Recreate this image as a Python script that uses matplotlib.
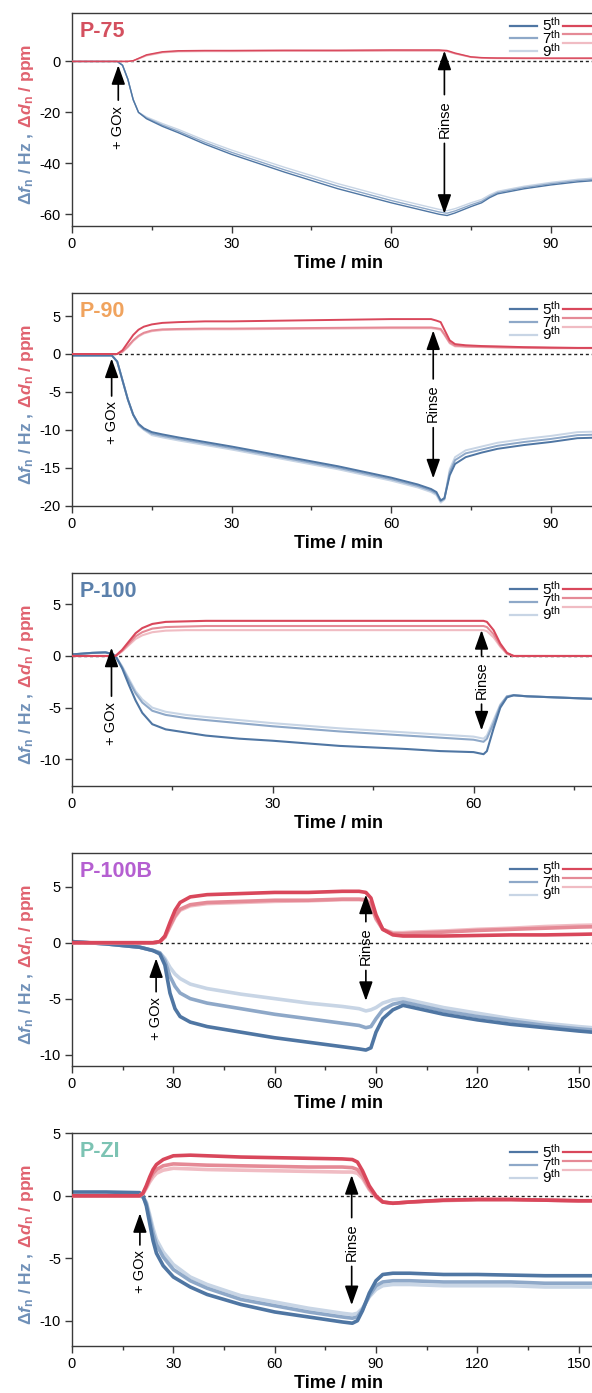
import matplotlib
matplotlib.use('Agg')
import matplotlib.pyplot as plt
from matplotlib.lines import Line2D
from matplotlib.transforms import IdentityTransform

plt.rcParams['font.family'] = ['Liberation Sans', 'DejaVu Sans']
plt.rcParams['mathtext.fontset'] = 'custom'
plt.rcParams['mathtext.rm'] = 'Liberation Sans'
plt.rcParams['mathtext.it'] = 'Liberation Sans:italic'
plt.rcParams['mathtext.bf'] = 'Liberation Sans:bold'
plt.rcParams['mathtext.bfit'] = 'Liberation Sans:italic:bold'
plt.rcParams['axes.unicode_minus'] = False

# ---------------- data ----------------
# P-75
p75_t = [0, 8.5, 9.5, 10.5, 11.5, 12.5, 14, 17, 20, 25, 30, 40, 50, 60, 66, 69, 70.5, 72, 75, 77, 78.5, 80, 85, 90, 95, 100]
p75_f5 = [0, 0, -1.5, -7, -15, -20, -22.5, -25.5, -28, -32.5, -36.5, -43.5, -50, -55.5, -58.5, -60, -60.5, -59.5, -57, -55.5, -53.5, -52, -50, -48.5, -47.3, -46.5]
p75_f7 = [0, 0, -1.5, -7, -15, -20, -22.2, -25, -27.4, -31.8, -35.7, -42.6, -49, -54.6, -57.6, -59.1, -59.6, -58.7, -56.3, -54.9, -53, -51.5, -49.5, -48, -46.8, -46]
p75_f9 = [0, 0, -1.5, -7, -15, -20, -21.8, -24.4, -26.7, -31, -34.8, -41.6, -48, -53.6, -56.6, -58.1, -58.6, -57.8, -55.5, -54.2, -52.4, -51, -49, -47.5, -46.3, -45.5]
p75_d5 = [0, 0, 0, 0, 0.3, 1.2, 2.6, 3.8, 4.2, 4.3, 4.3, 4.4, 4.4, 4.5, 4.5, 4.5, 4.3, 3.3, 1.8, 1.5, 1.4, 1.35, 1.3, 1.3, 1.3, 1.3]
p75_d7 = [0, 0, 0, 0, 0.25, 1.1, 2.4, 3.6, 4.0, 4.1, 4.1, 4.2, 4.2, 4.3, 4.3, 4.3, 4.1, 3.1, 1.7, 1.4, 1.3, 1.25, 1.2, 1.2, 1.2, 1.2]
p75_d9 = [0, 0, 0, 0, 0.2, 1.0, 2.2, 3.4, 3.8, 3.9, 3.9, 4.0, 4.0, 4.1, 4.1, 4.1, 3.9, 3.0, 1.6, 1.3, 1.2, 1.15, 1.1, 1.1, 1.1, 1.1]

# P-90
p90_t = [0, 7.5, 8.5, 9.5, 10.5, 11.5, 12.5, 13.5, 15, 17, 20, 25, 30, 40, 50, 60, 65, 67.5, 68.5, 69.3, 70, 71, 72, 74, 77, 80, 85, 90, 95, 100]
p90_f5 = [-0.2, -0.2, -1, -3.5, -6, -8, -9.2, -9.8, -10.3, -10.6, -11, -11.6, -12.2, -13.5, -14.8, -16.3, -17.2, -17.8, -18.2, -19.3, -19, -16, -14.5, -13.6, -13, -12.5, -12, -11.6, -11.1, -11.0]
p90_f7 = [-0.2, -0.2, -1, -3.5, -6, -8, -9.3, -9.9, -10.5, -10.8, -11.2, -11.8, -12.4, -13.7, -15.0, -16.5, -17.4, -18.0, -18.4, -19.4, -19.1, -15.6, -14.0, -13.1, -12.6, -12.1, -11.6, -11.2, -10.7, -10.6]
p90_f9 = [-0.2, -0.2, -1, -3.5, -6, -8, -9.4, -10.0, -10.7, -11.0, -11.4, -12.0, -12.6, -13.9, -15.2, -16.7, -17.6, -18.2, -18.6, -19.6, -19.2, -15.2, -13.6, -12.7, -12.2, -11.7, -11.2, -10.8, -10.3, -10.2]
p90_d5 = [0, 0, 0, 0.5, 1.5, 2.5, 3.2, 3.6, 3.9, 4.1, 4.2, 4.3, 4.3, 4.4, 4.5, 4.6, 4.6, 4.6, 4.4, 4.2, 3.2, 1.8, 1.3, 1.15, 1.05, 1.0, 0.9, 0.85, 0.8, 0.8]
p90_d7 = [0, 0, 0, 0.3, 1.0, 1.8, 2.4, 2.8, 3.1, 3.25, 3.3, 3.35, 3.35, 3.4, 3.45, 3.5, 3.5, 3.5, 3.4, 3.3, 2.6, 1.5, 1.1, 1.0, 0.95, 0.9, 0.85, 0.8, 0.8, 0.8]
p90_d9 = [0, 0, 0, 0.3, 0.9, 1.7, 2.3, 2.7, 3.0, 3.15, 3.2, 3.25, 3.25, 3.3, 3.35, 3.4, 3.4, 3.4, 3.3, 3.2, 2.5, 1.4, 1.0, 0.95, 0.9, 0.85, 0.8, 0.75, 0.75, 0.75]

# P-100
p100_t = [0, 3, 5, 6, 6.5, 7.5, 8.5, 9.5, 10.5, 12, 14, 17, 20, 25, 30, 40, 50, 55, 60, 61.5, 62, 63, 64, 65, 66, 68, 72, 80]
p100_f5 = [0.15, 0.3, 0.35, 0.2, 0, -1.2, -2.8, -4.3, -5.5, -6.6, -7.1, -7.4, -7.7, -8.0, -8.2, -8.7, -9.0, -9.2, -9.3, -9.5, -9.2, -7, -5, -4, -3.8, -3.9, -4.0, -4.2]
p100_f7 = [0.15, 0.3, 0.35, 0.2, 0, -1.1, -2.4, -3.6, -4.5, -5.3, -5.7, -6.0, -6.2, -6.5, -6.8, -7.3, -7.7, -7.9, -8.1, -8.3, -8.0, -6.5, -4.8, -3.9, -3.8, -3.9, -4.0, -4.2]
p100_f9 = [0.15, 0.3, 0.35, 0.2, 0, -1.0, -2.2, -3.4, -4.2, -5.0, -5.4, -5.7, -5.9, -6.2, -6.5, -7.0, -7.4, -7.6, -7.8, -8.0, -7.7, -6.2, -4.7, -3.9, -3.8, -3.9, -4.0, -4.2]
p100_d5 = [0, 0, 0, 0, 0, 0.6, 1.4, 2.2, 2.7, 3.1, 3.3, 3.35, 3.4, 3.4, 3.4, 3.4, 3.4, 3.4, 3.4, 3.4, 3.3, 2.5, 1.2, 0.3, 0, 0, 0, 0]
p100_d7 = [0, 0, 0, 0, 0, 0.5, 1.2, 1.9, 2.3, 2.65, 2.8, 2.85, 2.9, 2.9, 2.9, 2.9, 2.9, 2.9, 2.9, 2.9, 2.8, 2.1, 1.0, 0.25, 0, 0, 0, 0]
p100_d9 = [0, 0, 0, 0, 0, 0.45, 1.05, 1.65, 2.0, 2.3, 2.45, 2.5, 2.5, 2.5, 2.5, 2.5, 2.5, 2.5, 2.5, 2.5, 2.4, 1.8, 0.9, 0.2, 0, 0, 0, 0]

# P-100B
p100b_t = [0, 10, 20, 24, 26, 27.5, 29, 30.5, 32, 35, 40, 50, 60, 70, 80, 85, 87, 88.5, 90, 92, 95, 98, 101, 110, 120, 130, 140, 150, 158]
p100b_f5 = [0.1, -0.1, -0.4, -0.7, -1.0, -2.0, -4.5, -5.9, -6.6, -7.1, -7.5, -8.0, -8.5, -8.9, -9.3, -9.5, -9.6, -9.4, -8.0, -6.8, -6.0, -5.6, -5.8, -6.4, -6.9, -7.3, -7.6, -7.9, -8.1]
p100b_f7 = [0.1, -0.1, -0.4, -0.7, -0.9, -1.6, -3.0, -3.9, -4.5, -5.0, -5.4, -5.9, -6.4, -6.8, -7.2, -7.4, -7.6, -7.5, -6.8, -6.0, -5.5, -5.3, -5.5, -6.1, -6.6, -7.0, -7.4, -7.7, -7.9]
p100b_f9 = [0.1, -0.1, -0.4, -0.7, -0.9, -1.4, -2.2, -2.8, -3.2, -3.7, -4.1, -4.6, -5.0, -5.4, -5.7, -5.9, -6.1, -6.0, -5.8, -5.4, -5.1, -5.0, -5.2, -5.8, -6.3, -6.8, -7.2, -7.5, -7.7]
p100b_d5 = [0, 0, 0, 0, 0.1, 0.6, 1.8, 2.9, 3.6, 4.1, 4.3, 4.4, 4.5, 4.5, 4.6, 4.6, 4.5, 4.0, 2.5, 1.2, 0.7, 0.6, 0.6, 0.6, 0.65, 0.7, 0.7, 0.75, 0.8]
p100b_d7 = [0, 0, 0, 0, 0.1, 0.5, 1.5, 2.4, 3.0, 3.4, 3.6, 3.7, 3.8, 3.8, 3.9, 3.9, 3.85, 3.4, 2.2, 1.2, 0.8, 0.8, 0.85, 0.95, 1.1, 1.2, 1.3, 1.4, 1.45]
p100b_d9 = [0, 0, 0, 0, 0.1, 0.5, 1.4, 2.3, 2.9, 3.3, 3.5, 3.6, 3.7, 3.75, 3.85, 3.85, 3.8, 3.3, 2.1, 1.2, 0.9, 0.9, 0.95, 1.05, 1.2, 1.3, 1.45, 1.55, 1.6]

# P-ZI
pzi_t = [0, 10, 20, 21, 22, 23, 24, 25, 27, 30, 35, 40, 50, 60, 70, 80, 83, 84.5, 86, 88, 90, 92, 95, 100, 110, 120, 130, 140, 150, 158]
pzi_f5 = [0.3, 0.3, 0.25, 0, -0.8, -2.2, -3.6, -4.6, -5.6, -6.5, -7.3, -7.9, -8.7, -9.3, -9.7, -10.1, -10.2, -10.0, -9.2, -7.8, -6.8, -6.3, -6.2, -6.2, -6.3, -6.3, -6.35, -6.4, -6.4, -6.4]
pzi_f7 = [0, 0, 0, -0.1, -0.6, -1.8, -3.0, -3.9, -4.9, -5.9, -6.8, -7.4, -8.3, -8.8, -9.3, -9.7, -9.8, -9.7, -9.1, -8.0, -7.2, -6.9, -6.8, -6.8, -6.9, -6.9, -6.9, -7.0, -7.0, -7.0]
pzi_f9 = [0, 0, 0, -0.1, -0.5, -1.5, -2.6, -3.5, -4.5, -5.5, -6.5, -7.1, -8.0, -8.5, -9.0, -9.4, -9.5, -9.4, -9.0, -8.1, -7.5, -7.2, -7.1, -7.1, -7.2, -7.2, -7.2, -7.3, -7.3, -7.3]
pzi_d5 = [0, 0, 0, 0.2, 0.8, 1.5, 2.1, 2.5, 2.9, 3.2, 3.25, 3.2, 3.1, 3.05, 3.0, 2.95, 2.9, 2.7, 2.0, 0.8, 0, -0.5, -0.6, -0.5, -0.35, -0.3, -0.3, -0.35, -0.4, -0.4]
pzi_d7 = [0, 0, 0, 0.2, 0.7, 1.3, 1.8, 2.1, 2.4, 2.55, 2.5, 2.45, 2.4, 2.35, 2.3, 2.3, 2.25, 2.1, 1.6, 0.6, -0.1, -0.5, -0.6, -0.5, -0.35, -0.3, -0.3, -0.35, -0.4, -0.4]
pzi_d9 = [0, 0, 0, 0.15, 0.6, 1.1, 1.5, 1.8, 2.05, 2.2, 2.15, 2.1, 2.05, 2.0, 1.95, 1.9, 1.9, 1.8, 1.4, 0.5, -0.1, -0.5, -0.6, -0.5, -0.4, -0.3, -0.3, -0.35, -0.4, -0.4]

names = ['P-75', 'P-90', 'P-100', 'P-100B', 'P-ZI']
overtone_labels = ['5$^{\\mathrm{th}}$', '7$^{\\mathrm{th}}$', '9$^{\\mathrm{th}}$']
# event annotations: (time, arrow tip, text centre)
gox_events = [(8.7, -1.5, -25.8), (7.45, -0.6, -9.1), (5.9, 0.8, -6.5), (24.9, -1.4, -6.8), (20.1, -1.4, -6.1)]
# rinse: (time, top tip, bottom tip, text centre)
rinse_events = [(70.0, 4.2, -59.8, -22.6), (67.9, 3.1, -16.4, -6.5), (61.2, 2.5, -7.2, -2.3), (87.0, 4.3, -5.2, -0.3), (82.8, 1.65, -8.75, -3.7)]

series = [
    (p75_t, p75_f5, p75_f7, p75_f9, p75_d5, p75_d7, p75_d9),
    (p90_t, p90_f5, p90_f7, p90_f9, p90_d5, p90_d7, p90_d9),
    (p100_t, p100_f5, p100_f7, p100_f9, p100_d5, p100_d7, p100_d9),
    (p100b_t, p100b_f5, p100b_f7, p100b_f9, p100b_d5, p100b_d7, p100b_d9),
    (pzi_t, pzi_f5, pzi_f7, pzi_f9, pzi_d5, pzi_d7, pzi_d9),
]

# ---------------- styling ----------------
title_colors = ['#d4505f', '#f0a35e', '#5b80ab', '#b55fd1', '#7cc3b3']
blue = ['#4f76a3', '#8ea8c8', '#c8d5e5']
red = ['#d9475b', '#e58a96', '#f0bcc3']
xlims = [(0, 100), (0, 100), (0, 79.5), (0, 157.5), (0, 157.5)]
xticks = [[0, 30, 60, 90], [0, 30, 60, 90], [0, 30, 60], [0, 30, 60, 90, 120, 150], [0, 30, 60, 90, 120, 150]]
ylims = [(-64.5, 18.9), (-20, 8), (-12.55, 8), (-11, 8), (-12, 5)]
yticks = [[-60, -40, -20, 0], [-20, -15, -10, -5, 0, 5], [-10, -5, 0, 5], [-10, -5, 0, 5], [-10, -5, 0, 5]]
lws = [1.0, 1.4, 1.5, 2.6, 2.6]
legend_y = [1.045, 1.028, 1.029, 1.028, 1.014]

W, H = 592, 1393
fig = plt.figure(figsize=(W / 100, H / 100), dpi=100)
left_px, right_px = 72, 604
ax_h = 212.4
tops = [13.3, 293.3, 573.3, 853.3, 1133.3]

spine_c = '#3a3a3a'
axes = []
for i in range(5):
    top = tops[i]
    ax = fig.add_axes([left_px / W, 1 - (top + ax_h) / H, (right_px - left_px) / W, ax_h / H])
    axes.append(ax)
    t, f5, f7, f9, d5, d7, d9 = series[i]
    lw = lws[i]
    ax.axhline(0, color='#222222', ls=(0, (2.2, 2.0)), lw=1.0, zorder=1)
    for f, c in zip([f9, f7, f5], blue[::-1]):
        ax.plot(t, f, color=c, lw=lw, zorder=2, solid_joinstyle='round')
    for d, c in zip([d9, d7, d5], red[::-1]):
        ax.plot(t, d, color=c, lw=lw, zorder=3, solid_joinstyle='round')

    ax.set_xlim(*xlims[i])
    ax.set_ylim(*ylims[i])
    ax.set_xticks(xticks[i])
    ax.set_xticks([x + 15 for x in xticks[i] if x + 15 < xlims[i][1]], minor=True)
    ax.set_yticks(yticks[i])
    ax.set_yticklabels([str(v) for v in yticks[i]])
    ax.tick_params(which='major', direction='out', length=5, width=1.0, labelsize=10.5, pad=3, color=spine_c)
    ax.tick_params(which='minor', direction='out', length=3, width=1.0, color=spine_c)
    ax.tick_params(axis='y', which='minor', length=0)
    for s in ax.spines.values():
        s.set_color(spine_c)
        s.set_linewidth(1.0)
    ax.set_xlabel('Time / min', fontsize=13, fontweight='bold', labelpad=3)

    ax.text(0.015, 0.888, names[i], transform=ax.transAxes, ha='left', va='baseline',
            fontsize=15.5, fontweight='bold', color=title_colors[i])

    # legend
    handles = [Line2D([], [], color=c, lw=1.6) for c in blue] + [Line2D([], [], color=c, lw=1.6) for c in red]
    labels = overtone_labels + ['', '', '']
    ax.legend(handles, labels, ncol=2, loc='upper left', bbox_to_anchor=(0.8, legend_y[i]),
              frameon=False, fontsize=11, handlelength=1.8, handletextpad=0.3,
              columnspacing=0.15, labelspacing=-0.33, borderpad=0.3)

    # + GOx annotation
    gx, gtip, gtxt = gox_events[i]
    ax.annotate('+ GOx', xy=(gx, gtip), xytext=(gx, gtxt), rotation=90, ha='center', va='center',
                fontsize=10.5, arrowprops=dict(arrowstyle='-|>,head_length=0.9,head_width=0.32',
                                               mutation_scale=13, color='black', lw=1.2,
                                               shrinkA=2, shrinkB=0))
    # Rinse annotation
    rx, rtop, rbot, rtxt = rinse_events[i]
    arrow = dict(arrowstyle='-|>,head_length=0.9,head_width=0.32', mutation_scale=13,
                 color='black', lw=1.2, shrinkA=2, shrinkB=0)
    ax.annotate('Rinse', xy=(rx, rtop), xytext=(rx, rtxt), rotation=90, ha='center', va='center',
                fontsize=10.5, arrowprops=arrow)
    ax.annotate('Rinse', xy=(rx, rbot), xytext=(rx, rtxt), rotation=90, ha='center', va='center',
                fontsize=10.5, color=(0, 0, 0, 0), arrowprops=arrow)

# two-coloured y labels
renderer = fig.canvas.get_renderer()
part1 = 'Δ$\\mathbfit{f}_{\\mathbf{n}}$ / Hz ,'
part2 = ' Δ$\\mathbfit{d}_{\\mathbf{n}}$ / ppm'
for i, ax in enumerate(axes):
    yc = H - (tops[i] + ax_h / 2) - 5
    kw = dict(rotation=90, ha='center', va='bottom', fontsize=12.5, fontweight='bold',
              transform=IdentityTransform())
    t1 = fig.text(27, 0, part1, color='#6f90b8', **kw)
    t2 = fig.text(27, 0, part2, color='#e0626f', **kw)
    h1 = t1.get_window_extent(renderer).height
    h2 = t2.get_window_extent(renderer).height
    y0 = yc - (h1 + h2) / 2
    t1.set_position((27, y0))
    t2.set_position((27, y0 + h1))

fig.savefig('out.png', dpi=100)
